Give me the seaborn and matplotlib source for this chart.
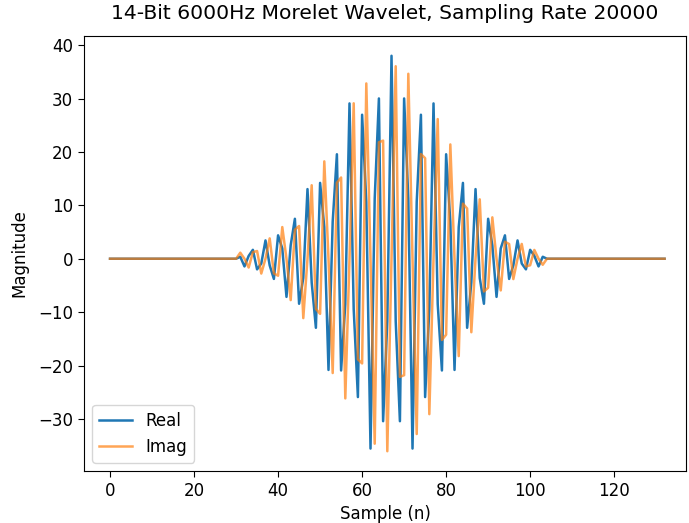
import matplotlib
matplotlib.use("Agg")
import matplotlib.pyplot as plt
import seaborn as sns
import numpy as np
import pandas as pd

# Sample indices 0..132
samples = list(range(133))

lead_zeros = [0.0] * 31
trail_zeros = [0.0] * 29

real_core = [
    0.37, -1.44, 0.53, 1.67, -1.99, -0.90, 3.43, -1.24, -3.78, 4.38,
    1.93, -7.14, 2.52, 7.48, -8.43, -3.61, 13.04, -4.47, -12.93, 14.20,
    5.92, -20.82, 6.95, 19.56, -20.92, -8.50, 29.08, -9.46, -25.90, 26.96,
    10.66, -35.54, 11.25, 30.01, -30.42, -11.71, 38.00, -11.71, -30.42, 30.01,
    11.25, -35.54, 10.66, 26.96, -25.90, -9.46, 29.08, -8.50, -20.92, 19.56,
    6.95, -20.82, 5.92, 14.20, -12.93, -4.47, 13.04, -3.61, -8.43, 7.48,
    2.52, -7.14, 1.93, 4.38, -3.78, -1.24, 3.43, -0.90, -1.99, 1.67,
    0.53, -1.44, 0.37,
]

imag_core = [
    1.13, 0.00, -1.65, 1.22, 1.45, -2.77, 0.00, 3.81, -2.75, -3.18,
    5.93, 0.00, -7.75, 5.43, 6.13, -11.12, 0.00, 13.76, -9.40, -10.32,
    18.23, 0.00, -21.40, 14.22, 15.21, -26.15, 0.00, 29.10, -18.83, -19.60,
    32.82, 0.00, -34.63, 21.81, 22.11, -36.04, 0.00, 36.04, -22.11, -21.81,
    34.63, 0.00, -32.82, 19.60, 18.83, -29.10, 0.00, 26.15, -15.21, -14.22,
    21.40, 0.00, -18.23, 10.32, 9.40, -13.76, 0.00, 11.12, -6.13, -5.43,
    7.75, 0.00, -5.93, 3.18, 2.75, -3.81, 0.00, 2.77, -1.45, -1.22,
    1.65, 0.00, -1.13,
]

real_vals = lead_zeros + real_core + trail_zeros
imag_vals = lead_zeros + imag_core + trail_zeros

df = pd.DataFrame({"n": samples, "Real": real_vals, "Imag": imag_vals})

fig = plt.figure(figsize=(6.89, 5.23), dpi=100)
ax = fig.add_axes([84 / 689, 1 - 471 / 523, (686 - 84) / 689, (471 - 36) / 523])

sns.lineplot(data=df, x="n", y="Real", ax=ax, color="#1f77b4", label="Real", linewidth=1.8)
sns.lineplot(data=df, x="n", y="Imag", ax=ax, color="#ff7f0e", alpha=0.7, label="Imag", linewidth=1.8)

ax.set_xlim(-6.2, 137.1)
ax.set_title("14-Bit 6000Hz Morelet Wavelet, Sampling Rate 20000", fontsize=14.6, pad=12)
ax.set_xlabel("Sample (n)", fontsize=12)
ax.set_ylabel("Magnitude", fontsize=12, labelpad=7)
ax.tick_params(labelsize=12, length=4.2)
ax.legend(loc="lower left", fontsize=12)

fig.savefig("out.png", dpi=100)
